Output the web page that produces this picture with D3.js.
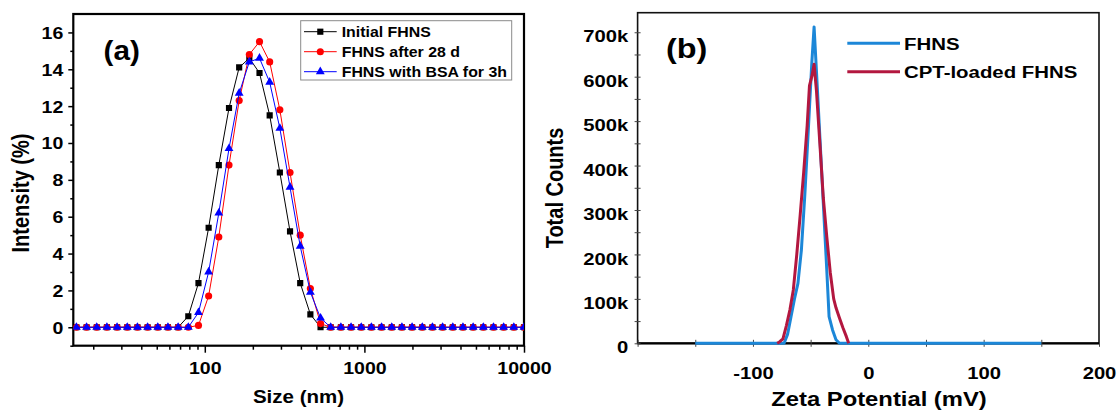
<!DOCTYPE html>
<html><head><meta charset="utf-8">
<script src="https://cdn.jsdelivr.net/npm/d3@7"></script>
<style>body{margin:0;background:#fff} svg{display:block}</style>
</head><body>
<svg id="c" width="1117" height="413"></svg>
<script>
// ---------- Panel (a) data: DLS size distribution ----------
const sizes = [15.69, 18.17, 21.04, 24.36, 28.21, 32.67, 37.84, 43.82, 50.75, 58.77, 68.06,
  78.82, 91.28, 105.7, 122.4, 141.8, 164.2, 190.1, 220.2, 255.0, 295.3, 342.0, 396.1, 458.7, 531.2,
  615.1, 712.4, 825.0, 955.4, 1106, 1281, 1484, 1718, 1990, 2305, 2669, 3091, 3580, 4145, 4801,
  5560, 6439, 7456, 8635, 10000];
const initialFHNS = [0,0,0,0,0,0,0,0,0,0,0,
  0.6, 2.4, 5.4, 8.8, 11.9, 14.1, 14.6, 13.8, 11.5, 8.4, 5.2, 2.4, 0.7, 0,
  0,0,0,0,0,0,0,0,0,0,0,0,0,0,0,0,0,0,0,0];
const after28d = [0,0,0,0,0,0,0,0,0,0,0,
  0, 0.1, 1.7, 4.9, 8.8, 12.3, 14.8, 15.5, 14.4, 11.8, 8.4, 5.0, 2.1, 0.2,
  0,0,0,0,0,0,0,0,0,0,0,0,0,0,0,0,0,0,0,0];
const withBSA = [0,0,0,0,0,0,0,0,0,0,0,
  0, 0.8, 3.0, 6.2, 9.7, 12.7, 14.4, 14.6, 13.3, 10.8, 7.6, 4.4, 1.9, 0.5,
  0,0,0,0,0,0,0,0,0,0,0,0,0,0,0,0,0,0,0,0];
const seriesA = ["Initial FHNS", "FHNS after 28 d", "FHNS with BSA for 3h"];
const sizeTicks = [100, 1000, 10000];
const sizeMinor = [20,30,40,50,60,70,80,90,200,300,400,500,600,700,800,900,
  2000,3000,4000,5000,6000,7000,8000,9000];
const intensityTicks = [0,2,4,6,8,10,12,14,16];
const intensityMinor = [-1,1,3,5,7,9,11,13,15];

// ---------- Panel (b) data: zeta potential distribution ----------
const zetaFHNS_x = [-150, -73, -70, -67, -64, -61, -58, -55, -52, -49, -47, -45, -42, -39, -36, -34, -31, -28, -25, 150];
const zetaFHNS_y = [0, 0, 20000, 60000, 100000, 135000, 210000, 335000, 480000, 630000, 712000, 615000, 465000, 315000, 165000, 60000, 30000, 8000, 0, 0];
const zetaCPT_x = [-79, -77, -74, -71, -68, -65, -62, -59, -56, -53, -51, -49, -47, -45, -42, -39, -36, -33, -30, -28, -25, -22, -19, -17];
const zetaCPT_y = [0, 3000, 10000, 40000, 75000, 120000, 200000, 290000, 385000, 490000, 580000, 600000, 628000, 570000, 450000, 327000, 240000, 160000, 100000, 80000, 57000, 35000, 15000, 0];
const seriesB = ["FHNS", "CPT-loaded FHNS"];
const zetaTicks = [-100, 0, 100, 200];
const zetaAllTicks = [-200, -150, -100, -50, 0, 50, 100, 150, 200];
const countTicks = [0, 100000, 200000, 300000, 400000, 500000, 600000, 700000];
const countMinor = [50000, 150000, 250000, 350000, 450000, 550000, 650000];

const FF = '"Liberation Sans", Arial, Helvetica, sans-serif';
const svg = d3.select('#c');
svg.append('rect').attr('width',1117).attr('height',413).attr('fill','#fff');

function label(g, x, y, str, size, sx, anchor, rot) {
  return g.append('text')
    .attr('transform', `translate(${x},${y}) scale(${sx},1)` + (rot ? ' rotate(-90)' : ''))
    .attr('text-anchor', anchor).attr('font-family', FF).attr('font-weight', 'bold')
    .attr('font-size', size).attr('fill', '#000').text(str);
}
function styleText(sel, tr, size) {
  sel.attr('x', null).attr('y', null).attr('dy', null)
    .attr('transform', tr).attr('font-size', size).attr('font-family', FF)
    .attr('font-weight', 'bold').attr('fill', '#000');
}
const plain = (d) => String(d);

// ================= Panel (a) =================
const A = {l: 73.3, r: 524, t: 14, b: 345.7};
const xa = d3.scaleLog().domain([15, 10000]).range([A.l, A.r]);
const ya = d3.scaleLinear().domain([-1, 17]).range([A.b, A.t]);
const gA = svg.append('g');

const ayMaj = gA.append('g').attr('transform', `translate(${A.l},0)`)
  .call(d3.axisLeft(ya).tickValues(intensityTicks).tickSize(5).tickFormat(plain));
ayMaj.select('.domain').remove();
ayMaj.selectAll('.tick line').attr('stroke', '#000').attr('stroke-width', 1.5);
styleText(ayMaj.selectAll('.tick text'), 'translate(-10,6) scale(1.15,1)', 17);
const ayMin = gA.append('g').attr('transform', `translate(${A.l},0)`)
  .call(d3.axisLeft(ya).tickValues(intensityMinor).tickSize(3).tickFormat(''));
ayMin.select('.domain').remove();
ayMin.selectAll('.tick line').attr('stroke', '#000').attr('stroke-width', 1.5);

const axMaj = gA.append('g').attr('transform', `translate(0,${A.b})`)
  .call(d3.axisBottom(xa).tickValues(sizeTicks).tickSize(7).tickFormat(plain));
axMaj.select('.domain').remove();
axMaj.selectAll('.tick line').attr('stroke', '#000').attr('stroke-width', 1.5);
styleText(axMaj.selectAll('.tick text'), 'translate(0,28.5) scale(1.15,1)', 17);
const axMin = gA.append('g').attr('transform', `translate(0,${A.b})`)
  .call(d3.axisBottom(xa).tickValues(sizeMinor).tickSize(4).tickFormat(''));
axMin.select('.domain').remove();
axMin.selectAll('.tick line').attr('stroke', '#000').attr('stroke-width', 1.5);

gA.append('rect').attr('x', A.l).attr('y', A.t).attr('width', A.r - A.l).attr('height', A.b - A.t)
  .attr('fill', 'none').attr('stroke', '#000').attr('stroke-width', 2.2);

const colorsA = ['#000000', '#ff0000', '#0000ff'];
const symbolsA = [d3.symbolSquare, d3.symbolCircle, d3.symbolTriangle];
const symSizeA = [38, 40, 34];
const dataA = [initialFHNS, after28d, withBSA];
svg.append('clipPath').attr('id', 'clipA').append('rect')
  .attr('x', A.l).attr('y', A.t).attr('width', A.r - A.l).attr('height', A.b - A.t);
const plotA = gA.append('g').attr('clip-path', 'url(#clipA)');
const lineA = d3.line().x((d) => xa(d[0])).y((d) => ya(d[1]));
dataA.forEach((vals, i) => {
  const pts = sizes.map((s, k) => [s, vals[k]]);
  plotA.append('path').datum(pts).attr('d', lineA).attr('fill', 'none')
    .attr('stroke', colorsA[i]).attr('stroke-width', 1);
  plotA.selectAll(null).data(pts).enter().append('path')
    .attr('d', d3.symbol().type(symbolsA[i]).size(symSizeA[i]))
    .attr('transform', (d) => `translate(${xa(d[0])},${ya(d[1])})`)
    .attr('fill', colorsA[i]);
});

const LA = {x: 300.7, y: 20.7, w: 211, h: 59.3};
gA.append('rect').attr('x', LA.x).attr('y', LA.y).attr('width', LA.w).attr('height', LA.h)
  .attr('fill', '#fff').attr('stroke', '#8a8a8a').attr('stroke-width', 1);
seriesA.forEach((name, i) => {
  const cy = 31.7 + i * 20;
  gA.append('line').attr('x1', 304).attr('x2', 336.7).attr('y1', cy).attr('y2', cy)
    .attr('stroke', colorsA[i]).attr('stroke-width', 1);
  gA.append('path').attr('d', d3.symbol().type(symbolsA[i]).size(symSizeA[i]))
    .attr('transform', `translate(320.3,${cy})`).attr('fill', colorsA[i]);
  label(gA, 341.7, cy + 5.4, name, 15, 1.06, 'start');
});

label(gA, 121.7, 59.5, '(a)', 27, 1.1, 'middle');
label(gA, 29, 193, 'Intensity (%)', 20, 1.15, 'middle', true);
label(gA, 298.5, 403, 'Size (nm)', 19, 1.08, 'middle');

// ================= Panel (b) =================
const B = {l: 637.6, r: 1099, t: 12.7, b: 343.3};
const xb = d3.scaleLinear().domain([-200, 200]).range([B.l, B.r]);
const yb = d3.scaleLinear().domain([0, 744000]).range([B.b, B.t]);
const gB = svg.append('g');

gB.append('rect').attr('x', B.l).attr('y', B.t).attr('width', B.r - B.l).attr('height', B.b - B.t)
  .attr('fill', 'none').attr('stroke', '#111').attr('stroke-width', 1.6);
gB.append('line').attr('x1', B.l).attr('x2', B.r).attr('y1', B.b).attr('y2', B.b)
  .attr('stroke', '#000').attr('stroke-width', 2.2);

const fmtK = (d) => d === 0 ? '0' : (d / 1000) + 'k';
const byMaj = gB.append('g').attr('transform', `translate(${B.l},0)`)
  .call(d3.axisLeft(yb).tickValues(countTicks).tickSize(6).tickFormat(fmtK));
byMaj.select('.domain').remove();
byMaj.selectAll('.tick line').attr('x1', 3).attr('x2', -3).attr('stroke', '#444').attr('stroke-width', 1);
styleText(byMaj.selectAll('.tick text'), 'translate(-9.3,9.6) scale(1.19,1)', 17);
const byMin = gB.append('g').attr('transform', `translate(${B.l},0)`)
  .call(d3.axisLeft(yb).tickValues(countMinor).tickSize(6).tickFormat(''));
byMin.select('.domain').remove();
byMin.selectAll('.tick line').attr('x1', 3).attr('x2', -3).attr('stroke', '#444').attr('stroke-width', 1);

const bxTicks = gB.append('g').attr('transform', `translate(0,${B.b})`)
  .call(d3.axisBottom(xb).tickValues(zetaAllTicks).tickSize(6).tickFormat(''));
bxTicks.select('.domain').remove();
bxTicks.selectAll('.tick line').attr('y1', -3.5).attr('y2', 3.5).attr('stroke', '#444').attr('stroke-width', 1);
const bxLab = gB.append('g').attr('transform', `translate(0,${B.b})`)
  .call(d3.axisBottom(xb).tickValues(zetaTicks).tickSize(0).tickFormat(plain));
bxLab.select('.domain').remove();
styleText(bxLab.selectAll('.tick text'), 'translate(0,35.7) scale(1.19,1)', 17);

const colorsB = ['#1c87d8', '#b3173f'];
const lineB = d3.line().x((d) => xb(d[0])).y((d) => yb(d[1]));
const ptsF = zetaFHNS_x.map((x, k) => [x, zetaFHNS_y[k]]);
const ptsC = zetaCPT_x.map((x, k) => [x, zetaCPT_y[k]]);
gB.append('path').datum(ptsF).attr('d', lineB).attr('fill', 'none')
  .attr('stroke', colorsB[0]).attr('stroke-width', 3).attr('stroke-linejoin', 'round');
gB.append('path').datum(ptsC).attr('d', lineB).attr('fill', 'none')
  .attr('stroke', colorsB[1]).attr('stroke-width', 3).attr('stroke-linejoin', 'round');

seriesB.forEach((name, i) => {
  const cy = i === 0 ? 43.3 : 71.7;
  gB.append('line').attr('x1', 847.3).attr('x2', 900).attr('y1', cy).attr('y2', cy)
    .attr('stroke', colorsB[i]).attr('stroke-width', 3);
  label(gB, 904, cy + 6.2, name, 17, 1.2, 'start');
});

label(gB, 686.7, 57.5, '(b)', 27, 1.2, 'middle');
label(gB, 563, 188, 'Total Counts', 20, 1.19, 'middle', true);
label(gB, 879, 406, 'Zeta Potential (mV)', 20, 1.19, 'middle');
</script>
</body></html>
